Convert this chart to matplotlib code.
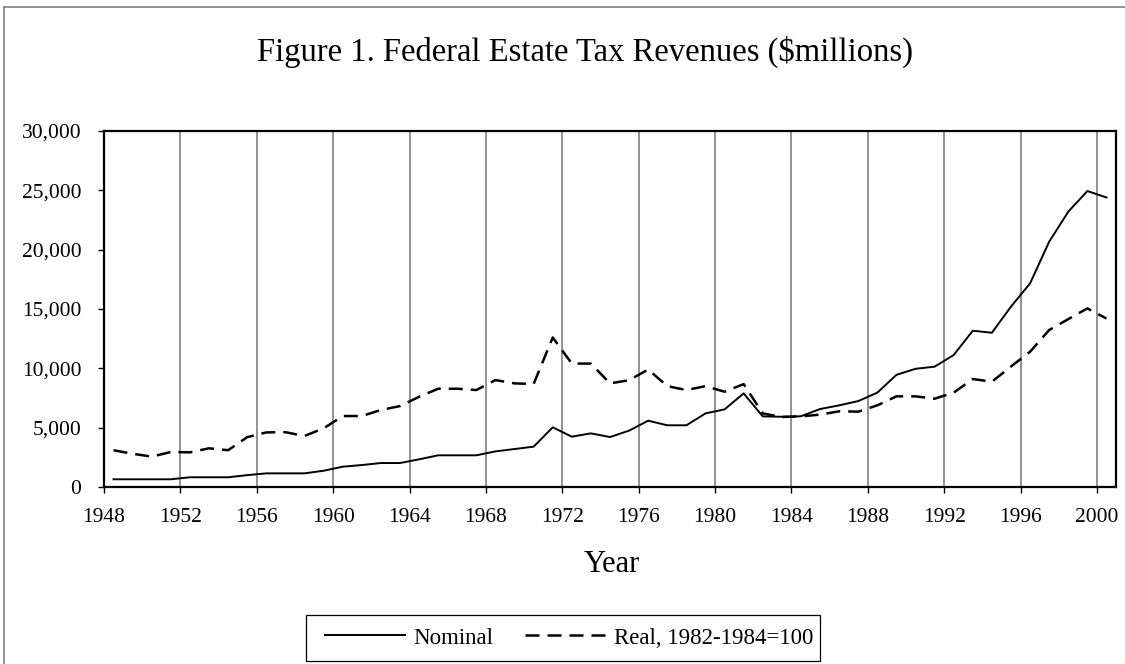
import matplotlib
matplotlib.use("Agg")
import matplotlib.pyplot as plt
from matplotlib.lines import Line2D
from matplotlib.patches import Rectangle

plt.rcParams['font.family'] = ['Liberation Serif', 'DejaVu Serif']

# data ($ millions)
years = list(range(1948, 2001))
nominal = [650, 650, 650, 650, 820, 820, 820, 1000, 1150, 1150,
           1150, 1370, 1710, 1850, 2020, 2020, 2330, 2670, 2670, 2670,
           3000, 3200, 3400, 5030, 4240, 4520, 4210, 4750, 5590, 5200,
           5200, 6200, 6540, 7890, 5950, 5920, 5960, 6570, 6880, 7240,
           7950, 9450, 9960, 10140, 11120, 13170, 13000, 15200, 17160, 20670,
           23200, 24940, 24400]
real = [3100, 2800, 2560, 2950, 2920, 3260, 3100, 4200, 4600, 4620,
        4300, 4940, 5980, 5980, 6490, 6820, 7600, 8280, 8280, 8170,
        9010, 8730, 8680, 12600, 10400, 10400, 8730, 9000, 9900, 8500,
        8170, 8500, 8030, 8670, 6200, 5900, 5950, 6100, 6380, 6350,
        6880, 7640, 7640, 7440, 7950, 9100, 8870, 10150, 11400, 13230,
        14150, 15050, 14200]
tick_years = list(range(1948, 2001, 4))
y_ticks = [0, 5000, 10000, 15000, 20000, 25000, 30000]

fig = plt.figure(figsize=(11.25, 6.64), dpi=100)
ax = fig.add_axes([104 / 1125, 1 - 487 / 664, 1012 / 1125, 356 / 664])

# categories sit between the tick marks (Excel style)
xs = [y + 0.5 for y in years]
ax.plot(xs, nominal, color='black', lw=1.4, label='Nominal')
ax.plot(xs, real, color='black', lw=1.8, linestyle=(0, (5.6, 3.2)),
        label='Real, 1982-1984=100')

ax.set_xlim(1948, 2001)
ax.set_ylim(0, 30000)
ax.set_xticks(tick_years)
ax.set_xticklabels([str(t) for t in tick_years])
ax.set_yticks(y_ticks)
ax.set_yticklabels([f'{v:,}' for v in y_ticks])
ax.tick_params(axis='both', direction='out', length=4.3, width=1,
               labelsize=15.5, color='black')
ax.tick_params(axis='y', pad=12)
ax.tick_params(axis='x', pad=11)

for y in tick_years[1:]:
    ax.axvline(y, color='#808080', lw=1.2, zorder=0)

for s in ax.spines.values():
    s.set_linewidth(1.6)
    s.set_color('black')

fig.text(585 / 1125, 1 - 52 / 664,
         'Figure 1. Federal Estate Tax Revenues ($millions)',
         ha='center', va='center', fontsize=23.5)
fig.text(612 / 1125, 1 - 565 / 664, 'Year', ha='center', va='center',
         fontsize=22)

leg = fig.legend(loc='center left', bbox_to_anchor=(325 / 1125, 1 - 638 / 664),
                 ncol=2, fontsize=16.5, frameon=False,
                 handlelength=3.5, handletextpad=0.35, columnspacing=1.4,
                 borderpad=0, borderaxespad=0)
fig.add_artist(Rectangle((306 / 1125, 1 - 661 / 664), 514 / 1125, 46 / 664,
                         transform=fig.transFigure, fill=False,
                         edgecolor='black', lw=0.9))

# outer chart border (left and top visible)
fig.add_artist(Line2D([4 / 1125, 4 / 1125], [0, 1 - 7 / 664],
                      transform=fig.transFigure, color='#808080', lw=1.2))
fig.add_artist(Line2D([4 / 1125, 1], [1 - 7 / 664, 1 - 7 / 664],
                      transform=fig.transFigure, color='#808080', lw=1.2))

fig.savefig('out.png', dpi=100)
